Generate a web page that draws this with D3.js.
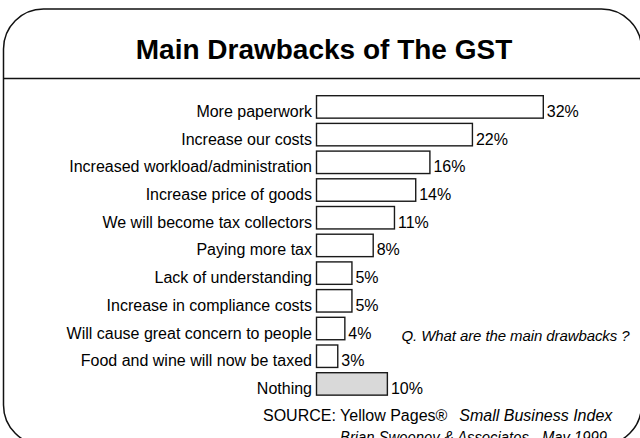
<!DOCTYPE html>
<html>
<head>
<meta charset="utf-8">
<script src="https://cdn.jsdelivr.net/npm/d3@7/dist/d3.min.js"></script>
<style>
  html, body { margin: 0; padding: 0; background: #fff; }
  svg { display: block; font-family: "Liberation Sans", Arial, sans-serif; }
</style>
</head>
<body>
<svg id="chart" width="640" height="438"></svg>
<script>
// Survey responses: main drawbacks of the GST
const categories = [
  "More paperwork",
  "Increase our costs",
  "Increased workload/administration",
  "Increase price of goods",
  "We will become tax collectors",
  "Paying more tax",
  "Lack of understanding",
  "Increase in compliance costs",
  "Will cause great concern to people",
  "Food and wine will now be taxed",
  "Nothing"
];
const percentages = [32, 22, 16, 14, 11, 8, 5, 5, 4, 3, 10];
const highlighted = ["Nothing"];

const title = "Main Drawbacks of The GST";
const question = "Q. What are the main drawbacks ?";
const sourceLead = "SOURCE: Yellow Pages®";
const sourceTitle = "Small Business Index";
const sourceCredit = "Brian Sweeney & Associates - May 1999";

const svg = d3.select("#chart");

// Rounded frame with a rule under the heading
svg.append("rect")
  .attr("x", 3.5).attr("y", 9)
  .attr("width", 638).attr("height", 436)
  .attr("rx", 40).attr("ry", 40)
  .attr("fill", "none")
  .attr("stroke", "#111")
  .attr("stroke-width", 1.5);

svg.append("line")
  .attr("x1", 3.5).attr("x2", 640)
  .attr("y1", 78.5).attr("y2", 78.5)
  .attr("stroke", "#111")
  .attr("stroke-width", 1.5);

svg.append("text")
  .attr("x", 324).attr("y", 58.5)
  .attr("text-anchor", "middle")
  .attr("font-size", 28)
  .attr("font-weight", "bold")
  .attr("fill", "#000")
  .text(title);

// Scales
const x = d3.scaleLinear().domain([0, 32]).range([316.5, 543.3]);
const y = d3.scaleBand()
  .domain(categories)
  .range([93.07, 397.77])
  .paddingInner(0.19)
  .paddingOuter(0.095);

const rows = categories.map((c, i) => ({ label: c, value: percentages[i] }));

const g = svg.append("g");

g.selectAll("rect.bar")
  .data(rows)
  .join("rect")
  .attr("class", "bar")
  .attr("x", x(0))
  .attr("y", d => y(d.label))
  .attr("width", d => x(d.value) - x(0))
  .attr("height", y.bandwidth())
  .attr("fill", d => highlighted.includes(d.label) ? "#d9d9d9" : "#fff")
  .attr("stroke", "#1a1a1a")
  .attr("stroke-width", 1.4);

// Category labels
g.selectAll("text.cat")
  .data(rows)
  .join("text")
  .attr("class", "cat")
  .attr("x", 312)
  .attr("y", d => y(d.label) + y.bandwidth() / 2 + 10)
  .attr("text-anchor", "end")
  .attr("font-size", 16)
  .attr("fill", "#000")
  .text(d => d.label);

// Value labels
g.selectAll("text.val")
  .data(rows)
  .join("text")
  .attr("class", "val")
  .attr("x", d => x(d.value) + 3.5)
  .attr("y", d => y(d.label) + y.bandwidth() / 2 + 10)
  .attr("font-size", 16)
  .attr("fill", "#000")
  .text(d => d.value + "%");

// Question note
svg.append("text")
  .attr("x", 401.5).attr("y", 341)
  .attr("font-size", 15)
  .attr("font-style", "italic")
  .attr("textLength", 228)
  .attr("lengthAdjust", "spacing")
  .attr("fill", "#000")
  .text(question);

// Source lines
const src = svg.append("text")
  .attr("x", 263).attr("y", 421)
  .attr("font-size", 16)
  .attr("fill", "#000");
src.append("tspan").text(sourceLead);
src.append("tspan").attr("dx", 12).attr("font-style", "italic").text(sourceTitle);

svg.append("text")
  .attr("x", 340).attr("y", 443)
  .attr("font-size", 16)
  .attr("font-style", "italic")
  .attr("textLength", 267)
  .attr("lengthAdjust", "spacingAndGlyphs")
  .attr("fill", "#000")
  .text(sourceCredit);
</script>
</body>
</html>
